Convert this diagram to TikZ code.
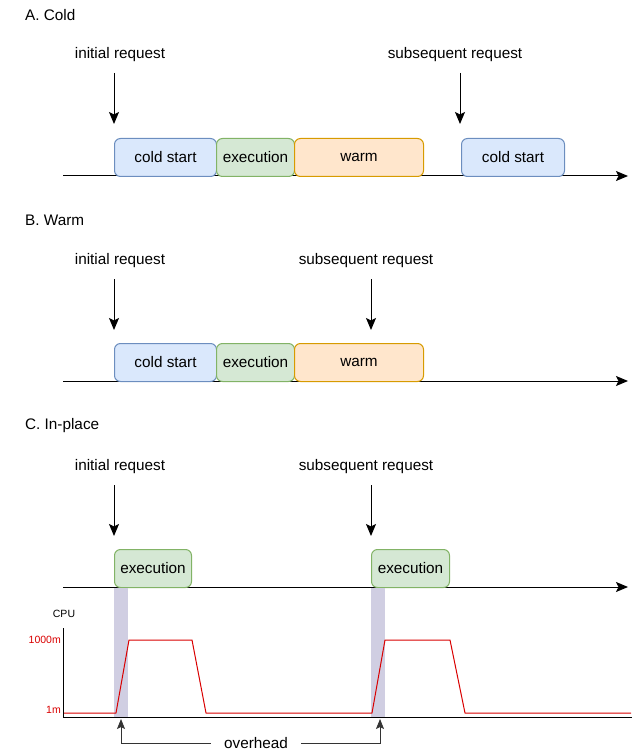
\documentclass[tikz,border=0pt]{standalone}
\usepackage{fontspec}
\setmainfont{Liberation Sans}
\usetikzlibrary{arrows.meta}
\definecolor{coldfill}{HTML}{DAE8FC}
\definecolor{coldline}{HTML}{6C8EBF}
\definecolor{execfill}{HTML}{D5E8D4}
\definecolor{execline}{HTML}{82B366}
\definecolor{warmfill}{HTML}{FFE6CC}
\definecolor{warmline}{HTML}{D79B00}
\definecolor{overshade}{HTML}{D0CEE2}
\definecolor{cpured}{HTML}{D90000}
\tikzset{
  txt/.style={font=\fontsize{15.3}{18}\selectfont, inner sep=0pt},
  small/.style={font=\fontsize{10.5}{12}\selectfont, inner sep=0pt},
  phase/.style={txt, draw, rounded corners=6pt, minimum height=38pt, line width=1pt, anchor=north west},
  cold/.style={phase, fill=coldfill, draw=coldline},
  exec/.style={phase, fill=execfill, draw=execline},
  warm/.style={phase, fill=warmfill, draw=warmline},
  req/.style={line width=1pt, -{Stealth[length=12pt,width=10pt,inset=2.5pt]}},
  axis/.style={line width=1pt, -{Stealth[length=12pt,width=10pt,inset=2.5pt]}},
  ovharrow/.style={line width=0.8pt, black!80, -{Stealth[length=10pt,width=8pt,inset=2pt]}},
}
\begin{document}
\begin{tikzpicture}[x=1pt,y=-1pt]
\useasboundingbox (0,0) rectangle (636,751);

\node[txt, anchor=west] (titleA) at (25,15) {A. Cold};
\node[txt] (initA) at (120,55) {initial request};
\node[txt] (subsA) at (455,55) {subsequent request};
\coordinate (initA0) at (114,73);
\coordinate (initA1) at (114,124);
\coordinate (subsA0) at (460,73);
\coordinate (subsA1) at (460,124);
\draw[req] (initA0) -- (initA1);
\draw[req] (subsA0) -- (subsA1);
\coordinate (timeA0) at (63,176);
\coordinate (timeA1) at (628,176);
\draw[axis] (timeA0) -- (timeA1);
\node[cold, minimum width=102pt] (coldA) at (114,138) {cold start};
\node[exec, minimum width=78pt] (execA) at (216,138) {execution};
\node[warm, minimum width=129pt] (warmA) at (294,138) {warm};
\node[cold, minimum width=103pt] (coldA2) at (461,138) {cold start};

\node[txt, anchor=west] (titleB) at (25,220) {B. Warm};
\node[txt] (initB) at (120,261) {initial request};
\node[txt] (subsB) at (366,261) {subsequent request};
\coordinate (initB0) at (114,279);
\coordinate (initB1) at (114,330);
\coordinate (subsB0) at (371,279);
\coordinate (subsB1) at (371,330);
\draw[req] (initB0) -- (initB1);
\draw[req] (subsB0) -- (subsB1);
\coordinate (timeB0) at (63,381);
\coordinate (timeB1) at (628,381);
\draw[axis] (timeB0) -- (timeB1);
\node[cold, minimum width=102pt] (coldB) at (114,343) {cold start};
\node[exec, minimum width=78pt] (execB) at (216,343) {execution};
\node[warm, minimum width=129pt] (warmB) at (294,343) {warm};

\node[txt, anchor=west] (titleC) at (25,426) {C. In-place};
\node[txt] (initC) at (120,467) {initial request};
\node[txt] (subsC) at (366,467) {subsequent request};
\coordinate (initC0) at (114,485);
\coordinate (initC1) at (114,536);
\coordinate (subsC0) at (371,485);
\coordinate (subsC1) at (371,536);
\draw[req] (initC0) -- (initC1);
\draw[req] (subsC0) -- (subsC1);
\coordinate (timeC0) at (63,587);
\coordinate (timeC1) at (628,587);
\draw[axis] (timeC0) -- (timeC1);
\node[exec, minimum width=77pt] (execC) at (114,549) {execution};
\node[exec, minimum width=78pt] (execC2) at (371,549) {execution};

\fill[overshade] (114,588) rectangle (128,717);
\fill[overshade] (371,588) rectangle (385,717);
\coordinate (cpuTop) at (63,628);
\coordinate (cpuOrig) at (63,717);
\coordinate (cpuEnd) at (632,717);
\draw[line width=1pt] (cpuTop) -- (cpuOrig) -- (cpuEnd);
\node[small] (cpu) at (64,614) {CPU};
\node[small, anchor=east, text=cpured] (hi) at (61,640) {1000m};
\node[small, anchor=east, text=cpured] (lo) at (61,710) {1m};
\draw[cpured, line width=1pt, line join=round] (64,713) -- (116,713) -- (129,640) -- (192,640) -- (206,713) -- (372,713) -- (385,640) -- (450,640) -- (465,713) -- (631,713);

\node[txt, inner xsep=13pt] (ovh) at (256,743) {overhead};
\coordinate (ovhL) at (121,719);
\coordinate (ovhR) at (380,719);
\draw[ovharrow] (ovh.west) -| (ovhL);
\draw[ovharrow] (ovh.east) -| (ovhR);
\end{tikzpicture}
\end{document}
